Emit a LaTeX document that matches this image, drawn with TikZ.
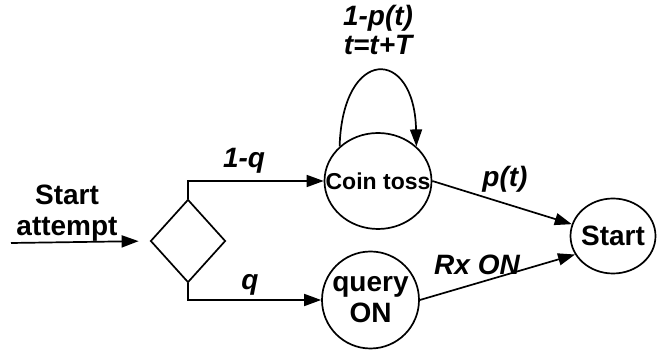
\documentclass[tikz,border=0pt]{standalone}
\usepackage{fontspec}
\setmainfont{Liberation Sans}
\usetikzlibrary{automata, arrows.meta, shapes.geometric}
\tikzset{
  every state/.style={
    draw=black,
    line width=1.7pt,
    fill=white,
    inner sep=0pt,
    font=\fontsize{28}{31}\selectfont\bfseries
  },
  flow/.style={
    draw=black,
    line width=1.7pt,
    -{Triangle[length=17pt,width=12pt]}
  },
  every edge/.style={flow},
  lbl/.style={
    font=\fontsize{28}{31}\selectfont\bfseries\itshape,
    inner sep=0pt,
    anchor=base
  }
}

\begin{document}
\begin{tikzpicture}[x=1pt, y=1pt]
  \useasboundingbox (0,0) rectangle (671,358);
  \node[state, ellipse, inner xsep=-15pt, minimum width=107pt, minimum height=96pt,
        font=\fontsize{23}{26}\selectfont\bfseries] (coin) at (378,177) {Coin toss};
  \node[state, minimum size=97pt, align=center] (query) at (370.5,58) {query\\ON};
  \node[state, ellipse, inner xsep=-4pt, minimum width=85pt, minimum height=75pt] (start) at (613,122) {Start};
  \node[draw, diamond, line width=1.7pt, minimum width=75pt, minimum height=83pt,
        inner sep=0pt] (dec) at (188,117) {};
  \coordinate (src) at (11,115);
  \node[align=center, inner sep=0pt, font=\fontsize{28}{31}\selectfont\bfseries]
        (attempt) at (67,144.5) {Start\\attempt};

  \draw[flow, shorten >=11pt] (src) -- (dec.west);
  \draw[flow] (dec.north) |- (coin.west);
  \draw[flow] (dec.south) |- (query.west);
  \path (coin.east) edge (start.164)
        (query.east) edge (start.206);
  \draw[flow] (coin.138) .. controls +(3,100) and +(-2,100) .. (coin.42);

  \node[lbl] (oneq) at (244,190) {1-q};
  \node[lbl] (qlbl) at (250,68) {q};
  \node[lbl] (ptlbl) at (505,171) {p(t)};
  \node[lbl] (rxlbl) at (477,83) {Rx ON};
  \node[lbl] (notp) at (378,332) {1-p(t)};
  \node[lbl] (tstep) at (378,303) {t=t+T};
\end{tikzpicture}
\end{document}
